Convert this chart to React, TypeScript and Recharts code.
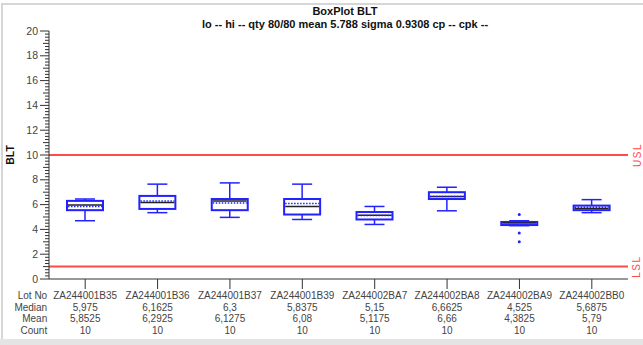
import {
  ComposedChart,
  Bar,
  XAxis,
  YAxis,
  ReferenceLine,
} from "recharts";

const lots = [
  "ZA244001B35", "ZA244001B36", "ZA244001B37", "ZA244001B39",
  "ZA244002BA7", "ZA244002BA8", "ZA244002BA9", "ZA244002BB0",
];
const mins = [4.7, 5.35, 4.97, 4.8, 4.4, 5.5, 4.3, 5.35];
const q1s = [5.55, 5.65, 5.55, 5.2, 4.8, 6.45, 4.35, 5.55];
const medians = [5.975, 6.1625, 6.3, 5.8375, 5.15, 6.6625, 4.525, 5.6875];
const q3s = [6.3, 6.7, 6.45, 6.45, 5.4, 7.0, 4.6, 5.92];
const maxs = [6.45, 7.65, 7.75, 7.65, 5.85, 7.4, 4.7, 6.4];
const means = [5.8525, 6.2925, 6.1275, 6.08, 5.1175, 6.66, 4.3825, 5.79];
const counts = [10, 10, 10, 10, 10, 10, 10, 10];
const outliers = [[], [], [], [], [], [], [5.2, 3.7, 3.0], []];

const USL = 10;
const LSL = 1;
const yTicks = Array.from({ length: 81 }, (_, i) => i * 0.25);

const data = lots.map((lot, i) => ({
  lot,
  min: mins[i],
  q1: q1s[i],
  median: medians[i],
  q3: q3s[i],
  max: maxs[i],
  mean: means[i],
  count: counts[i],
  outliers: outliers[i],
}));

const FONT = "'Liberation Sans', Arial, sans-serif";
const BLUE = "#2222ff";
const RED = "#ff4a4a";
const TEXT = "#444";

const fmt = (v: number) => String(v).replace(".", ",");

// draws the whole box from the [min, max] range the Bar gives us
const BoxShape = (props: any) => {
  const { x, y, width, height, payload } = props;
  const lo = Math.min(payload.min, ...payload.outliers);
  const hi = Math.max(payload.max, ...payload.outliers);
  const k = height / (hi - lo);
  const py = (v: number) => y + (hi - v) * k;
  const cx = x + width / 2;
  const cap = 10;
  return (
    <g>
      <line x1={cx} x2={cx} y1={py(payload.max)} y2={py(payload.q3)} stroke={BLUE} strokeWidth={1.5} />
      <line x1={cx} x2={cx} y1={py(payload.q1)} y2={py(payload.min)} stroke={BLUE} strokeWidth={1.5} />
      <line x1={cx - cap} x2={cx + cap} y1={py(payload.max)} y2={py(payload.max)} stroke={BLUE} strokeWidth={1.5} />
      <line x1={cx - cap} x2={cx + cap} y1={py(payload.min)} y2={py(payload.min)} stroke={BLUE} strokeWidth={1.5} />
      <rect
        x={x}
        y={py(payload.q3)}
        width={width}
        height={py(payload.q1) - py(payload.q3)}
        fill="#fff"
        stroke={BLUE}
        strokeWidth={2}
      />
      <line x1={x + 1} x2={x + width - 1} y1={py(payload.median)} y2={py(payload.median)} stroke="#222" strokeWidth={1.5} />
      <line
        x1={x + 1}
        x2={x + width - 1}
        y1={py(payload.mean)}
        y2={py(payload.mean)}
        stroke={BLUE}
        strokeWidth={1.5}
        strokeDasharray="1.5 1.5"
      />
      {payload.outliers.map((o: number, j: number) => (
        <circle key={j} cx={cx} cy={py(o)} r={1.5} fill={BLUE} />
      ))}
    </g>
  );
};

const YTick = (props: any) => {
  const { x, y, payload } = props;
  const v = payload.value;
  const major = Math.abs(v % 2) < 1e-6;
  const mid = !major && Math.abs(v % 1) < 1e-6;
  const len = major ? 9 : mid ? 6 : 4;
  return (
    <g>
      <line x1={x - len} x2={x} y1={y} y2={y} stroke="#333" strokeWidth={1} />
      {major && (
        <text x={x - 11} y={y + 3.5} textAnchor="end" fontSize={10.5} fill={TEXT} fontFamily={FONT}>
          {v}
        </text>
      )}
    </g>
  );
};

const rowNames = ["Lot No", "Median", "Mean", "Count"];

const XTick = (props: any) => {
  const { x, y, index } = props;
  const d = data[index];
  const rows = [d.lot, fmt(d.median), fmt(d.mean), String(d.count)];
  return (
    <g fontFamily={FONT} fontSize={10}>
      <line x1={x} x2={x} y1={y} y2={y + 10} stroke="#333" strokeWidth={1} />
      {rows.map((r, j) => (
        <text key={j} x={x} y={y + 20 + j * 11.7} textAnchor="middle" fill={TEXT}>
          {r}
        </text>
      ))}
      {index === 0 &&
        rowNames.map((r, j) => (
          <text key={"n" + j} x={x - 38} y={y + 20 + j * 11.7} textAnchor="end" fill={TEXT}>
            {r}
          </text>
        ))}
    </g>
  );
};

const limitLabel = (text: string) => (p: any) => {
  const vb = p.viewBox;
  const lx = vb.x + vb.width + 9;
  const ly = vb.y;
  return (
    <text
      x={lx}
      y={ly}
      transform={`rotate(-90 ${lx} ${ly})`}
      textAnchor="middle"
      dominantBaseline="central"
      fontSize={10}
      letterSpacing={1.5}
      fill={RED}
      fontFamily={FONT}
    >
      {text}
    </text>
  );
};

export default function App() {
  return (
    <div style={{ position: "absolute", left: 0, top: 0, width: 643, height: 345, background: "#fff", overflow: "hidden" }}>
      <div
        style={{
          position: "absolute",
          left: 1,
          top: 3,
          width: 660,
          height: 334,
          border: "2px solid #d6d6d6",
          borderRight: "none",
        }}
      />
      <div style={{ position: "absolute", left: 0, top: 339, width: 643, height: 6, background: "#e4e4e4" }} />
      <div
        style={{
          position: "absolute",
          left: 0,
          top: 5,
          width: 690,
          textAlign: "center",
          fontFamily: FONT,
          fontWeight: "bold",
          fontSize: 11,
          lineHeight: "12.5px",
          color: "#111",
        }}
      >
        <div>BoxPlot BLT</div>
        <div>lo -- hi -- qty 80/80 mean 5.788 sigma 0.9308 cp -- cpk --</div>
      </div>
      <div
        style={{
          position: "absolute",
          left: 10,
          top: 155,
          transform: "translate(-50%, -50%) rotate(-90deg)",
          fontFamily: FONT,
          fontWeight: "bold",
          fontSize: 10.5,
          color: "#111",
        }}
      >
        BLT
      </div>
      <ComposedChart
        width={643}
        height={345}
        data={data}
        margin={{ top: 31, right: 15, bottom: 0, left: 9 }}
        style={{ position: "absolute", left: 0, top: 0 }}
      >
        <XAxis
          dataKey="lot"
          type="category"
          interval={0}
          height={66}
          tickLine={false}
          tickSize={0}
          tickMargin={0}
          axisLine={{ stroke: "#333" }}
          tick={<XTick />}
        />
        <YAxis
          type="number"
          domain={[0, 20]}
          ticks={yTicks}
          interval={0}
          width={40}
          tickLine={false}
          tickSize={0}
          tickMargin={0}
          axisLine={{ stroke: "#333" }}
          tick={<YTick />}
        />
        <ReferenceLine y={USL} stroke={RED} strokeWidth={2} label={limitLabel("USL")} />
        <ReferenceLine y={LSL} stroke={RED} strokeWidth={2} label={limitLabel("LSL")} />
        <Bar
          dataKey={(d: any) => [Math.min(d.min, ...d.outliers), Math.max(d.max, ...d.outliers)]}
          barSize={36}
          shape={<BoxShape />}
          isAnimationActive={false}
        />
      </ComposedChart>
    </div>
  );
}
